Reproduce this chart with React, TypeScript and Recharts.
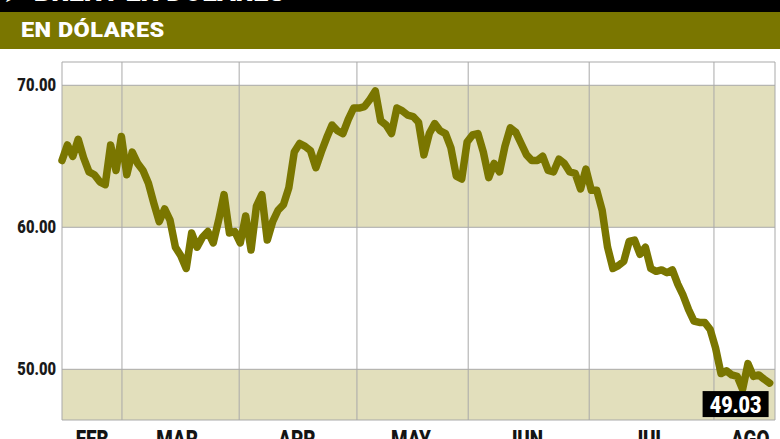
import {
  LineChart, Line, XAxis, YAxis, ReferenceArea, ReferenceLine, ReferenceDot,
} from 'recharts';

// Brent, USD per barrel, one value per trading day (mid-Feb to mid-Aug)
const brent: number[] = [
  64.7, 65.8, 65.0, 66.2, 64.9, 63.9, 63.7, 63.2, 63.0, 65.8,
  64.0, 66.4, 63.7, 65.3, 64.5, 64.0, 63.1, 61.7, 60.4, 61.3,
  60.5, 58.6, 58.0, 57.1, 59.6, 58.6, 59.3, 59.7, 58.9, 60.5,
  62.3, 59.6, 59.7, 58.9, 60.8, 58.4, 61.5, 62.3, 59.1, 60.4,
  61.2, 61.6, 62.8, 65.3, 65.9, 65.7, 65.4, 64.2, 65.3, 66.3,
  67.2, 66.8, 66.6, 67.6, 68.4, 68.4, 68.5, 69.0, 69.6, 67.5,
  67.2, 66.6, 68.4, 68.2, 67.9, 67.8, 67.4, 65.1, 66.6, 67.3,
  66.8, 66.6, 65.6, 63.6, 63.4, 66.0, 66.5, 66.6, 65.3, 63.5,
  64.5, 63.9, 65.7, 67.0, 66.7, 65.9, 65.1, 64.7, 64.7, 65.0,
  64.0, 63.9, 64.8, 64.5, 63.9, 63.8, 62.7, 64.1, 62.6, 62.6,
  61.2, 58.6, 57.1, 57.3, 57.6, 59.0, 59.1, 58.1, 58.6, 57.1,
  56.9, 57.0, 56.8, 57.0, 56.0, 55.2, 54.2, 53.4, 53.3, 53.3,
  52.8, 51.5, 49.7, 49.9, 49.6, 49.5, 48.6, 50.4, 49.5, 49.6,
  49.3, 49.03,
];

// month boundaries and label centres, in trading-day units
const monthStarts = [11.1, 32.8, 54.6, 75.2, 97.6, 120.7];
const monthMids = [5.6, 21.3, 43.5, 64.6, 85.7, 108.7, 127.4];
const monthLabels = ['FEB', 'MAR', 'APR', 'MAY', 'JUN', 'JUL', 'AGO'];

const yTicks = [50, 60, 70];
const bands: [number, number][] = [[60, 70], [46.43, 50]];

const X_MAX = 132;
const Y_MIN = 46.43;
const Y_MAX = 71.64;

const data = brent.map((v, i) => ({ i, v }));

const OLIVE = '#7a7600';
const KHAKI = '#e2dfbc';
const GRID = '#a9a9a9';
const FONT = 'Roboto, "Noto Sans", sans-serif';

function MonthTick({ x, y, payload }: { x?: number; y?: number; payload?: { value: number } }) {
  const idx = monthMids.indexOf(payload?.value ?? -1);
  return (
    <text
      transform={`translate(${x},${(y ?? 0) + 27}) scale(0.82,1)`}
      textAnchor="middle"
      fontFamily={FONT} fontWeight={900} fontSize={23} fill="#141414"
    >
      {monthLabels[idx] ?? ''}
    </text>
  );
}

function YTick({ x, y, payload }: { x?: number; y?: number; payload?: { value: number } }) {
  return (
    <text
      transform={`translate(${(x ?? 0) - 6},${(y ?? 0) + 6}) scale(0.82,1)`}
      textAnchor="end"
      fontFamily={FONT} fontWeight={900} fontSize={18} fill="#1a1a1a"
    >
      {payload ? payload.value.toFixed(2) : ''}
    </text>
  );
}

function LastBadge({ cx, cy }: { cx?: number; cy?: number }) {
  if (cx == null || cy == null) return <g />;
  return (
    <g>
      <rect x={cx - 67} y={cy + 8} width={66} height={26} fill="#000" />
      <text
        transform={`translate(${cx - 34},${cy + 29.5}) scale(0.86,1)`}
        textAnchor="middle"
        fontFamily={FONT} fontWeight={900} fontSize={23} fill="#fff"
      >
        {brent[brent.length - 1].toFixed(2)}
      </text>
    </g>
  );
}

export default function App() {
  return (
    <div style={{
      position: 'absolute', left: 0, top: 0, width: 780, height: 439,
      overflow: 'hidden', background: '#fff', fontFamily: FONT,
    }}>
      <div style={{ position: 'absolute', left: 0, top: 0, width: 780, height: 12, background: '#000', overflow: 'hidden' }}>
        <div style={{
          position: 'absolute', left: 4, top: -21, fontSize: 27, lineHeight: '27px',
          fontWeight: 900, color: '#fff', whiteSpace: 'nowrap',
        }}>
          ➤ BRENT EN DÓLARES
        </div>
      </div>
      <div style={{
        position: 'absolute', left: 0, top: 12, width: 780, height: 37, background: OLIVE,
      }}>
        <div style={{
          position: 'absolute', left: 21, top: 0, color: '#fff', fontWeight: 900, fontSize: 21,
          lineHeight: '37px', letterSpacing: 0.4, whiteSpace: 'nowrap',
          transform: 'scale(1.12, 1)', transformOrigin: 'left center',
        }}>
          EN DÓLARES
        </div>
      </div>

      <div style={{ position: 'absolute', left: 0, top: 0 }}>
        <LineChart width={780} height={460} data={data} margin={{ top: 62, right: 5, left: 0, bottom: 0 }}>
          {bands.map(([y1, y2]) => (
            <ReferenceArea
              key={y1}
              x1={0} x2={X_MAX} y1={y1} y2={y2}
              fill={KHAKI} fillOpacity={1} stroke="none" ifOverflow="hidden"
            />
          ))}
          {monthStarts.map((s) => (
            <ReferenceLine key={`v${s}`} x={s} stroke={GRID} strokeWidth={1} />
          ))}
          {yTicks.map((t) => (
            <ReferenceLine key={`h${t}`} y={t} stroke={GRID} strokeWidth={1} />
          ))}
          <ReferenceArea
            x1={0} x2={X_MAX} y1={Y_MIN} y2={Y_MAX}
            fill="none" stroke={GRID} strokeWidth={1}
          />
          <XAxis
            dataKey="i" type="number" domain={[0, X_MAX]} ticks={monthMids}
            tick={<MonthTick />} axisLine={false} tickLine={false} height={40}
            interval={0} tickSize={0} tickMargin={0}
          />
          <YAxis
            type="number" domain={[Y_MIN, Y_MAX]} ticks={yTicks} width={62}
            axisLine={false} tickLine={false} tickMargin={0} tickSize={0}
            tick={<YTick />}
          />
          <Line
            type="linear" dataKey="v" stroke={OLIVE} strokeWidth={7.5}
            strokeLinejoin="round" strokeLinecap="round" dot={false}
            isAnimationActive={false}
          />
          <ReferenceDot
            x={brent.length - 1} y={brent[brent.length - 1]} r={0}
            shape={<LastBadge />}
          />
        </LineChart>
      </div>
    </div>
  );
}
